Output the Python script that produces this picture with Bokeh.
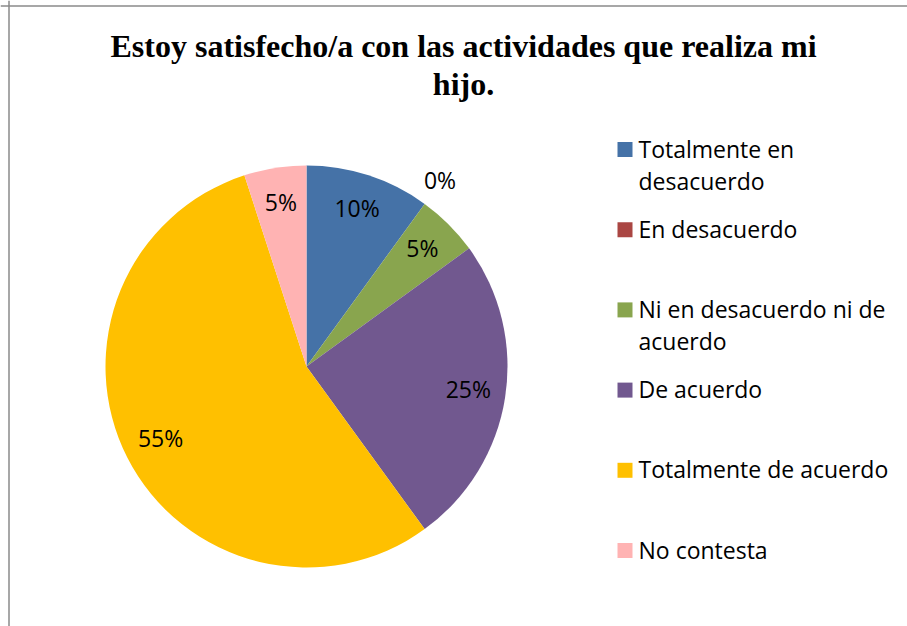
import math
from bokeh.plotting import figure
from bokeh.models import ColumnDataSource, Range1d, Span, CDSView, BooleanFilter
from bokeh.core.properties import value
from bokeh.embed import file_html
from bokeh.resources import INLINE

# ---- data ----
title_lines = ["Estoy satisfecho/a con las actividades que realiza mi", "hijo."]
categories = ["Totalmente en desacuerdo", "En desacuerdo", "Ni en desacuerdo ni de acuerdo",
              "De acuerdo", "Totalmente de acuerdo", "No contesta"]
legend_lines = [["Totalmente en", "desacuerdo"], ["En desacuerdo"], ["Ni en desacuerdo ni de", "acuerdo"],
                ["De acuerdo"], ["Totalmente de acuerdo"], ["No contesta"]]
percent = [10, 0, 5, 25, 55, 5]
colors = ["#4572A7", "#AA4643", "#89A54E", "#71588F", "#FFC000", "#FFB3B3"]

# ---- layout (data units == pixels; y measured upward from window bottom) ----
W, H = 907, 626
def Y(y_img):
    return H - y_img

cx, cy, r = 306, Y(366), 201

total = float(sum(percent))
starts, ends, lx, ly, labels = [], [], [], [], []
cum = 0.0
for v in percent:
    a0 = math.pi / 2 - 2 * math.pi * cum / total
    cum += v
    a1 = math.pi / 2 - 2 * math.pi * cum / total
    starts.append(a0)
    ends.append(a1)
    mid = (a0 + a1) / 2
    rr = r * (0.815 if v > 0 else 1.13)
    lx.append(cx + rr * math.cos(mid))
    ly.append(cy + rr * math.sin(mid) + 3)
    labels.append(f"{v}%")

src = ColumnDataSource(dict(cat=categories, val=percent, start=starts, end=ends,
                            color=colors, lx=lx, ly=ly, label=labels))
view = CDSView(filter=BooleanFilter([v > 0 for v in percent]))

p = figure(width=W, height=H, output_backend="svg", toolbar_location=None,
           x_range=Range1d(0, W), y_range=Range1d(0, H),
           min_border=0, outline_line_color=None, background_fill_color="white",
           border_fill_color="white")
p.axis.visible = False
p.grid.visible = False

# chart border (left and top visible)
p.add_layout(Span(location=8.5, dimension="height", line_color="#8a8a8a", line_width=1.5))
p.add_layout(Span(location=Y(5.5), dimension="width", line_color="#8a8a8a", line_width=1.5))

p.wedge(x=cx, y=cy, radius=r, start_angle="start", end_angle="end", direction="clock",
        fill_color="color", line_color=None, source=src, view=view)

p.text(x="lx", y="ly", text="label", source=src, text_font=value("Open Sans"),
       text_font_size="23px", text_align="center", text_baseline="middle", text_color="#000000")

# title
for i, t in enumerate(title_lines):
    p.text(x=[463], y=[Y(45 + 38 * i)], text=[t], text_font=value("Liberation Serif"),
           text_font_style="bold", text_font_size="32px", text_align="center",
           text_baseline="alphabetic", text_color="#000000")

# legend
sq_x, tx = 624.5, 638
base0, pitch, line_gap = 157, 80.2, 32
for i, lines in enumerate(legend_lines):
    b = base0 + pitch * i
    p.rect(x=[sq_x], y=[Y(b - 8)], width=15, height=15, fill_color=colors[i], line_color=None)
    for j, ln in enumerate(lines):
        p.text(x=[tx], y=[Y(b - 9 + line_gap * j)], text=[ln], text_font=value("Open Sans"),
               text_font_size="23px", text_align="left", text_baseline="alphabetic",
               text_color="#000000")

open("out.html", "w").write(file_html(p, INLINE))
